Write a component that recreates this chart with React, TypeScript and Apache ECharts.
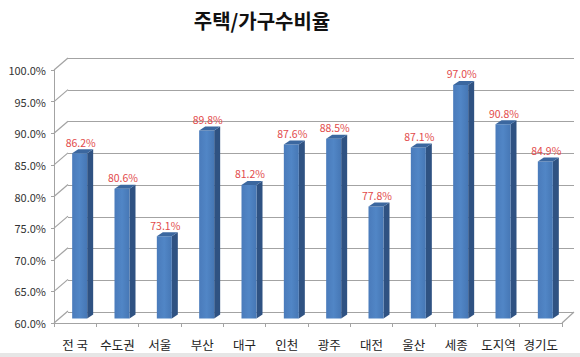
import React, { useEffect, useRef } from "react";
import * as echarts from "echarts";

const categories = ["전 국", "수도권", "서울", "부산", "대구", "인천", "광주", "대전", "울산", "세종", "도지역", "경기도"];
const ratios = [86.2, 80.6, 73.1, 89.8, 81.2, 87.6, 88.5, 77.8, 87.1, 97.0, 90.8, 84.9];
const yTicks = [60, 65, 70, 75, 80, 85, 90, 95, 100];
const titleText = "주택/가구수비율";

const FONT = "'Noto Sans CJK KR', 'Noto Sans', sans-serif";
const DEPTH_X = 14;
const DEPTH_Y = -12;
const GRID_COLOR = "#a3a3a3";

export default function App() {
  const ref = useRef<HTMLDivElement>(null);
  useEffect(() => {
    if (!ref.current) return;
    const chart = echarts.init(ref.current, undefined, { renderer: "svg" });
    const option: any = {
      animation: false,
      backgroundColor: "#ffffff",
      title: {
        text: titleText,
        left: 257,
        top: 5,
        textAlign: "center",
        textStyle: { fontFamily: FONT, fontSize: 20, fontWeight: "bold", color: "#111" },
      },
      graphic: [
        { type: "rect", shape: { x: 0, y: 353, width: 580, height: 4 }, style: { fill: "#e6e6e6" }, silent: true },
      ],
      grid: [
        { left: 54, right: 18, top: 70, bottom: 34 },
        { left: 68, right: 6, top: 58, bottom: 45 },
      ],
      xAxis: [
        {
          type: "category",
          gridIndex: 0,
          data: categories,
          boundaryGap: true,
          axisLine: { show: true, lineStyle: { color: GRID_COLOR, width: 1 } },
          axisTick: { show: true, alignWithLabel: false, interval: 0, length: 4, lineStyle: { color: GRID_COLOR } },
          axisLabel: { fontFamily: FONT, fontSize: 12.5, color: "#222", margin: 15, interval: 0 },
          splitLine: { show: false },
        },
        {
          type: "category",
          gridIndex: 1,
          data: categories,
          show: false,
        },
      ],
      yAxis: [
        {
          type: "value",
          gridIndex: 0,
          min: 60,
          max: 100,
          interval: 5,
          axisLine: { show: true, lineStyle: { color: GRID_COLOR, width: 1 } },
          axisTick: { show: true, length: 3, lineStyle: { color: GRID_COLOR } },
          axisLabel: {
            fontFamily: FONT,
            fontSize: 11,
            color: "#333",
            margin: 8,
            formatter: (v: number) => v.toFixed(1) + "%",
          },
          splitLine: { show: false },
        },
        {
          type: "value",
          gridIndex: 1,
          min: 60,
          max: 100,
          interval: 5,
          axisLine: { show: false },
          axisTick: { show: false },
          axisLabel: { show: false },
          splitLine: { show: true, lineStyle: { color: GRID_COLOR, width: 1.2 } },
        },
      ],
      series: [
        {
          type: "custom",
          name: "walls",
          xAxisIndex: 0,
          yAxisIndex: 0,
          clip: false,
          silent: true,
          data: yTicks.map((v) => [0, v]),
          encode: { x: 0, y: 1 },
          renderItem: (params: any, api: any) => {
            const cs = params.coordSys;
            const v = api.value(1);
            const y = api.coord([0, v])[1];
            const x0 = cs.x;
            const children: any[] = [
              {
                type: "line",
                shape: { x1: x0, y1: y, x2: x0 + DEPTH_X, y2: y + DEPTH_Y },
                style: { stroke: GRID_COLOR, lineWidth: 1.2 },
              },
            ];
            if (v === yTicks[0]) {
              const xr = cs.x + cs.width;
              children.push({
                type: "line",
                shape: { x1: xr, y1: y, x2: xr + DEPTH_X - 2, y2: y + DEPTH_Y + 1 },
                style: { stroke: GRID_COLOR, lineWidth: 1.2 },
              });
            }
            return { type: "group", children };
          },
        },
        {
          type: "custom",
          name: "주택/가구수비율",
          xAxisIndex: 0,
          yAxisIndex: 0,
          clip: false,
          data: ratios.map((v, i) => [i, v]),
          encode: { x: 0, y: 1 },
          renderItem: (params: any, api: any) => {
            const i = api.value(0);
            const v = api.value(1);
            const top = api.coord([i, v]);
            const base = api.coord([i, 60]);
            const fc = top[0] + 4.5;
            const hw = 7.5;
            const x0 = fc - hw;
            const x1 = fc + hw;
            const yt = top[1] - 4;
            const yb = base[1] - 4.5;
            const dx = 6;
            const dy = -4;
            return {
              type: "group",
              children: [
                {
                  type: "polygon",
                  shape: { points: [[x1, yt], [x1 + dx, yt + dy], [x1 + dx, yb + dy], [x1, yb]] },
                  style: { fill: "#2f5282" },
                },
                {
                  type: "rect",
                  shape: { x: x0, y: yt, width: x1 - x0, height: yb - yt },
                  style: {
                    fill: new echarts.graphic.LinearGradient(0, 0, 1, 0, [
                      { offset: 0, color: "#4a7bbb" },
                      { offset: 0.5, color: "#5186c6" },
                      { offset: 1, color: "#4677b5" },
                    ]),
                  },
                },
                {
                  type: "polygon",
                  shape: { points: [[x0, yt], [x1, yt], [x1 + dx, yt + dy], [x0 + dx, yt + dy]] },
                  style: { fill: "#3b679f" },
                },
                {
                  type: "text",
                  style: {
                    x: fc + 1,
                    y: yt - 11,
                    text: v.toFixed(1) + "%",
                    fill: "#e24a4a",
                    font: `10.5px ${FONT}`,
                    align: "center",
                    verticalAlign: "middle",
                  },
                },
              ],
            };
          },
        },
      ],
    };
    chart.setOption(option);
    return () => chart.dispose();
  }, []);
  return (
    <div
      ref={ref}
      style={{ position: "fixed", left: 0, top: 0, width: 580, height: 357 }}
    />
  );
}
